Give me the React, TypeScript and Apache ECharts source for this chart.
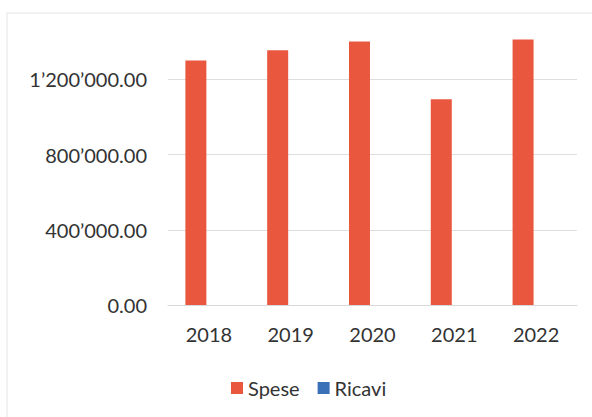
import React, { useEffect, useRef } from "react";
import * as echarts from "echarts";

const categories = ["2018", "2019", "2020", "2021", "2022"];
const speseValues = [1300000, 1355000, 1402000, 1095000, 1412000];
const ricaviValues = [0, 0, 0, 0, 0];
const seriesNames = ["Spese", "Ricavi"];

function fmt(v: number): string {
  const [intPart, dec] = v.toFixed(2).split(".");
  const withSep = intPart.replace(/\B(?=(\d{3})+(?!\d))/g, "\u2019");
  return withSep + "." + dec;
}

export default function App() {
  const ref = useRef<HTMLDivElement>(null);
  useEffect(() => {
    document.body.style.margin = "0";
    const chart = echarts.init(ref.current!, undefined, { renderer: "svg" });
    const font = "Lato, 'Open Sans', sans-serif";
    chart.setOption({
      animation: false,
      backgroundColor: "#ffffff",
      textStyle: { fontFamily: font },
      graphic: [
        {
          type: "rect",
          shape: { x: 7, y: 13, width: 620, height: 430 },
          style: { fill: "none", stroke: "#e4e4e4", lineWidth: 1 },
          silent: true,
        },
      ],
      grid: { left: 168, right: 15, top: 23, bottom: 112, containLabel: false },
      legend: {
        left: 226,
        top: 373,
        itemWidth: 12,
        itemHeight: 12,
        itemGap: 18,
        icon: "rect",
        textStyle: { fontSize: 20, color: "#333333", fontFamily: font },
        data: seriesNames,
      },
      xAxis: {
        type: "category",
        data: categories,
        axisLine: { show: true, lineStyle: { color: "#d9d9d9" } },
        axisTick: { show: false },
        axisLabel: { fontSize: 20, color: "#333333", margin: 19, fontFamily: font },
      },
      yAxis: {
        type: "value",
        min: 0,
        max: 1500000,
        interval: 400000,
        axisLine: { show: false },
        axisTick: { show: false },
        axisLabel: {
          fontSize: 20,
          color: "#333333",
          margin: 21,
          fontFamily: font,
          showMaxLabel: false,
          formatter: (v: number) => (v > 1400000 ? "" : fmt(v)),
        },
        splitLine: { show: true, showMaxLine: false, lineStyle: { color: "#dedede", width: 1 } },
      },
      series: [
        {
          name: seriesNames[0],
          type: "bar",
          data: speseValues,
          barWidth: 21,
          barGap: "24%",
          itemStyle: { color: "#e9573f" },
        },
        {
          name: seriesNames[1],
          type: "bar",
          data: ricaviValues,
          barWidth: 21,
          itemStyle: { color: "#3a70b8" },
        },
      ],
    });
    return () => chart.dispose();
  }, []);
  return <div ref={ref} style={{ width: 592, height: 417 }} />;
}
